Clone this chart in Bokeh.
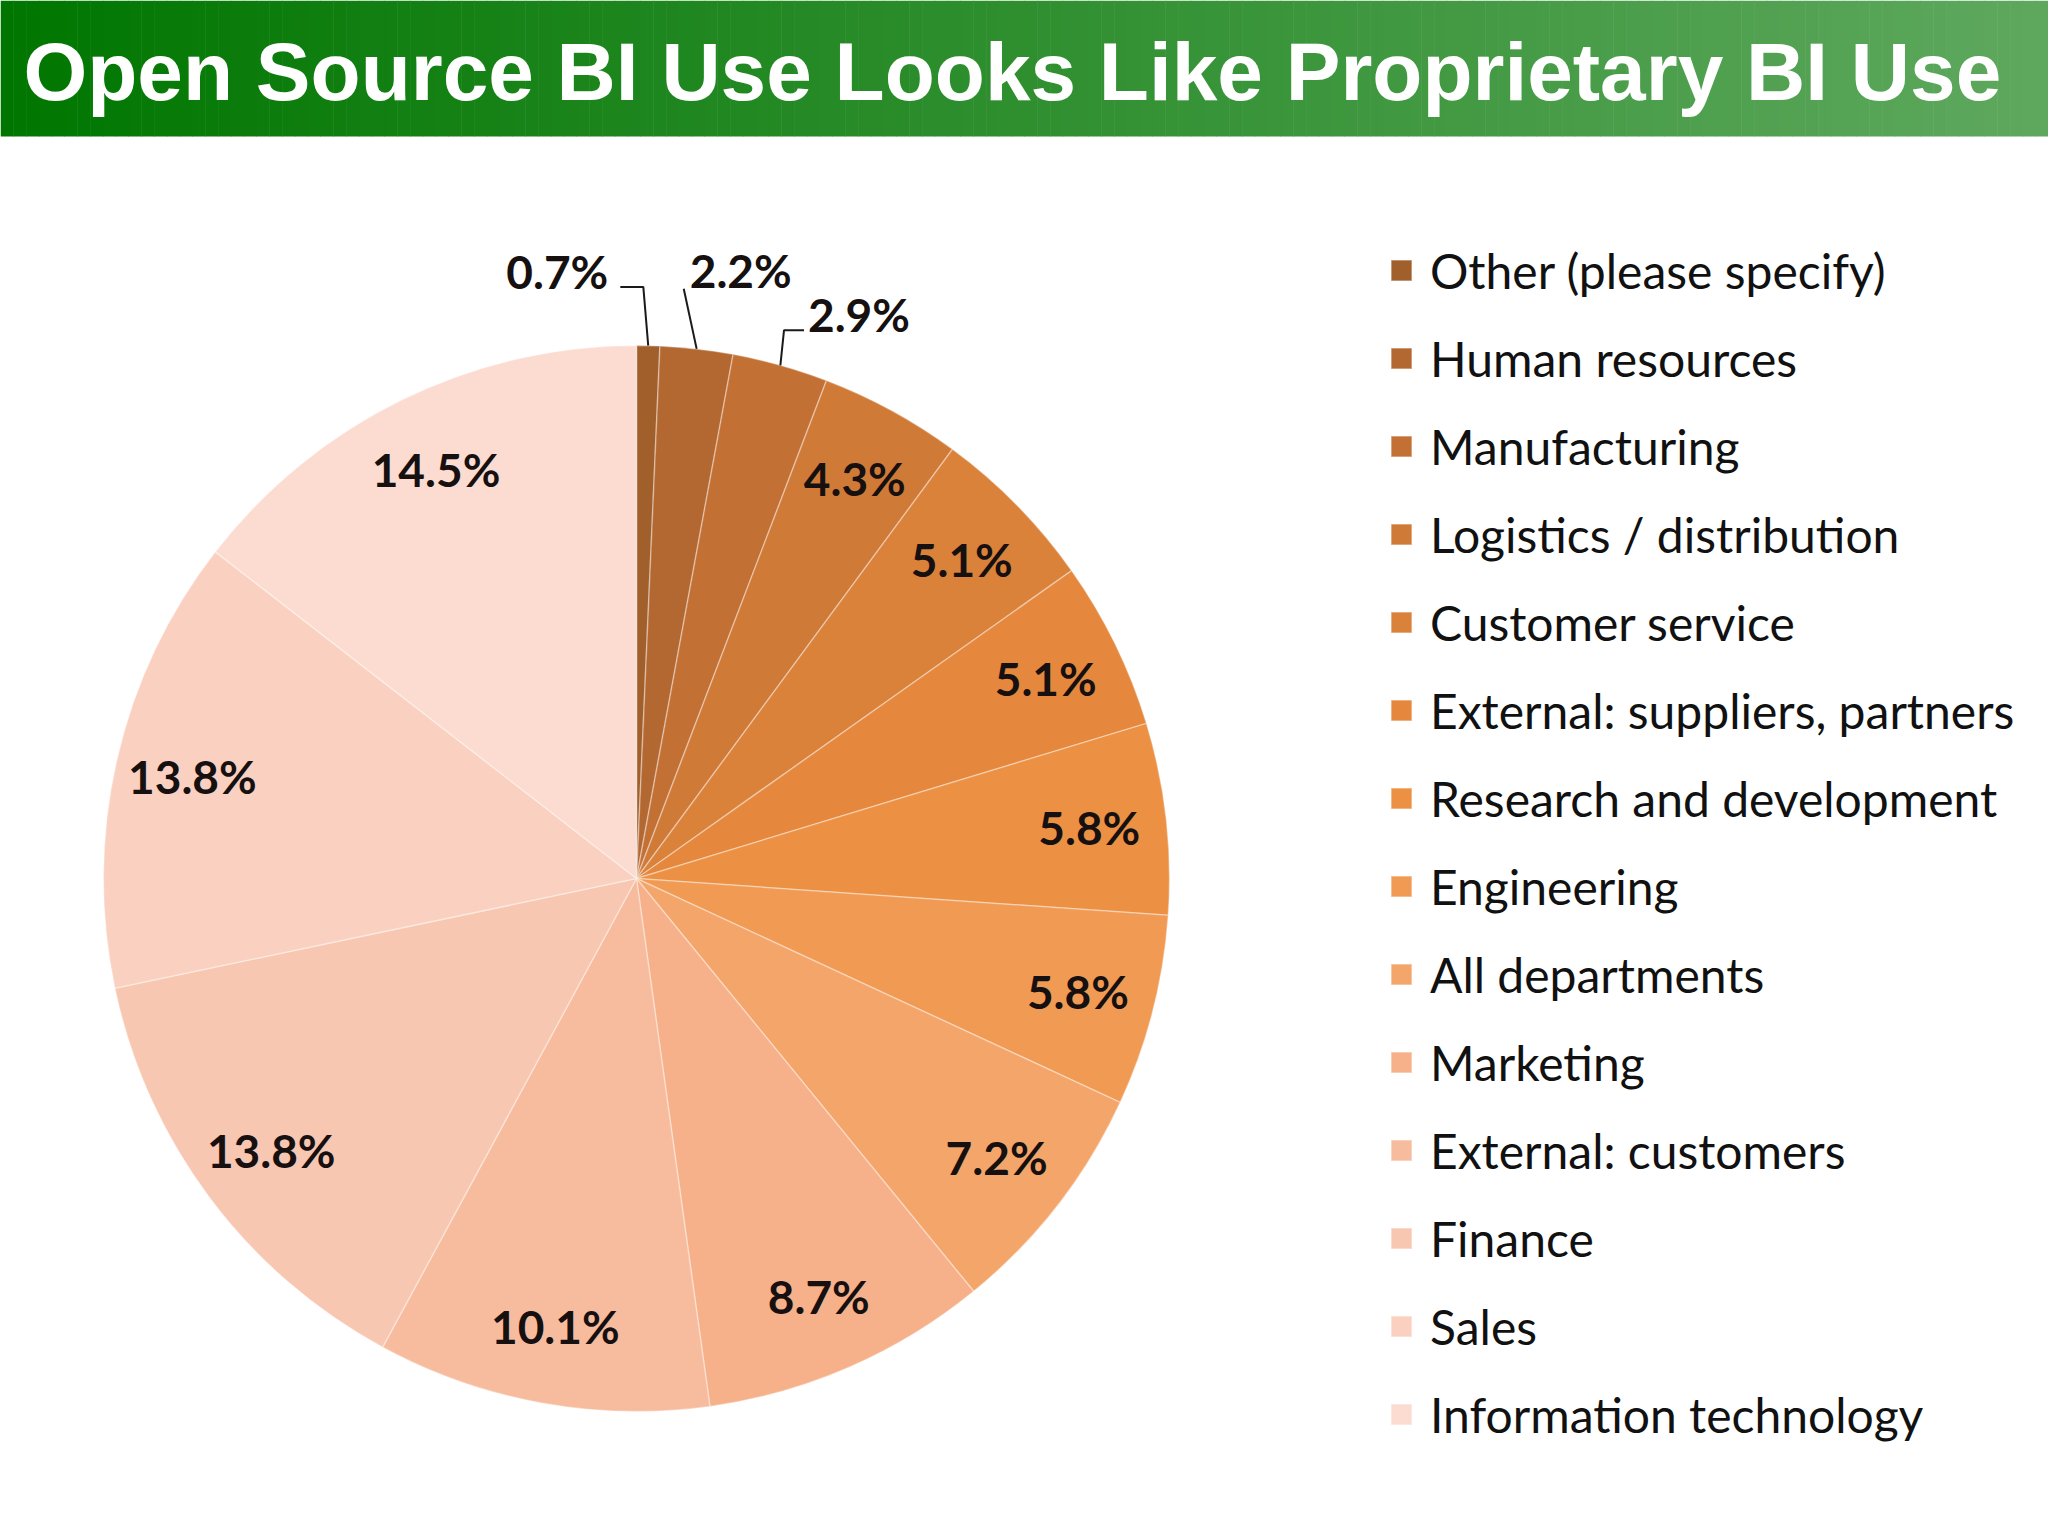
import numpy as np
from bokeh.plotting import figure
from bokeh.models import Range1d, Legend, LegendItem, ColumnDataSource
from bokeh.core.properties import value
from bokeh.embed import file_html
from bokeh.resources import INLINE

# ---------------- data ----------------
title_text = "Open Source BI Use Looks Like Proprietary BI Use"
categories = ["Other (please specify)", "Human resources", "Manufacturing",
              "Logistics / distribution", "Customer service",
              "External: suppliers, partners", "Research and development",
              "Engineering", "All departments", "Marketing",
              "External: customers", "Finance", "Sales",
              "Information technology"]
shares = [0.7, 2.2, 2.9, 4.3, 5.1, 5.1, 5.8, 5.8, 7.2, 8.7, 10.1, 13.8, 13.8, 14.5]
colors = ["#a15f2b", "#b46831", "#c27034", "#d07a38", "#da813a",
          "#e5883d", "#ec9043", "#f19a54", "#f4a56a", "#f6b18a",
          "#f7bc9e", "#f8c7b2", "#fad1c1", "#fcdcd0"]

# ---------------- layout ----------------
W, H = 2048, 1536
def Y(row):  # convert page pixel row into data y
    return H - row

cx, cy, R = 636, Y(878), 533
label_r = 0.855 * R

p = figure(width=W, height=H, x_range=Range1d(0, W), y_range=Range1d(0, H),
           output_backend="svg", toolbar_location=None, min_border=0)
p.axis.visible = False
p.grid.visible = False
p.outline_line_color = None
p.background_fill_color = "white"
p.border_fill_color = "white"

# title bar with horizontal gradient (strips)
n = 160
edges = np.linspace(0, W, n + 1)
c0 = np.array([0, 118, 0])
c1 = np.array([94, 168, 94])
strip_cols = ["#%02x%02x%02x" % tuple(int(round(v)) for v in c0 + (c1 - c0) * t)
              for t in np.linspace(0, 1, n)]
p.quad(left=edges[:-1], right=edges[1:] + 0.5, bottom=Y(136), top=Y(0),
       fill_color=strip_cols, line_color=None)
p.text(x=[23], y=[Y(71)], text=[title_text], text_color="white",
       text_font=value("Liberation Sans"),
       text_font_style="bold", text_font_size="82px", text_baseline="middle",
       text_align="left")

# pie
frac = np.array(shares) / sum(shares)
cum = np.concatenate([[0], np.cumsum(frac)])
start = np.pi / 2 - 2 * np.pi * cum[:-1]
end = np.pi / 2 - 2 * np.pi * cum[1:]
mid = (cum[:-1] + cum[1:]) / 2 * 2 * np.pi  # clockwise from top

src = ColumnDataSource(dict(start=start, end=end, color=colors, cat=categories))
wr = p.wedge(x=cx, y=cy, radius=R, start_angle="start", end_angle="end",
             direction="clock", fill_color="color", line_color="white",
             line_alpha=0.35, line_width=1.5, source=src)

label_font = value("Lato")
lab = ["%.1f%%" % s for s in shares]
inside = [i for i, s in enumerate(shares) if s > 3]
p.text(x=[cx + label_r * np.sin(mid[i]) for i in inside],
       y=[cy + label_r * np.cos(mid[i]) for i in inside],
       text=[lab[i] for i in inside], text_font=label_font, text_font_style="bold",
       text_font_size="46px", text_color="#161010", text_align="center",
       text_baseline="middle")

# outside labels with leader lines (small slices)
outside = {0: dict(r=1.11, da=-0.6, hx=-23, align="right", gap=-12, up=15),
           1: dict(r=1.11, da=-1.9, hx=0, align="left", gap=6, up=18),
           2: dict(r=1.065, da=-0.6, hx=20, align="left", gap=4, up=16)}
for i, o in outside.items():
    a = mid[i]
    ex, ey = cx + R * np.sin(a), cy + R * np.cos(a)
    b = a + np.radians(o["da"])
    kx, ky = cx + o["r"] * R * np.sin(b), cy + o["r"] * R * np.cos(b)
    hx = kx + o["hx"]
    p.line(x=[ex, kx, hx], y=[ey, ky, ky], line_color="#1a1a1a", line_width=2)
    p.text(x=[hx + o["gap"]], y=[ky + o["up"]], text=[lab[i]], text_font=label_font,
           text_font_style="bold", text_font_size="46px", text_color="#161010",
           text_align=o["align"], text_baseline="middle")

# legend
items = [LegendItem(label=categories[i], renderers=[wr], index=i)
         for i in range(len(categories))]
item_h = 62
spacing = 88 - item_h
bottom_row = 1414 + item_h / 2
legend = Legend(items=items, location=(1388, H - bottom_row),
                glyph_width=26, glyph_height=26, label_height=item_h,
                label_standoff=16, spacing=spacing, padding=0, margin=0,
                border_line_color=None, background_fill_alpha=0,
                label_text_font="Lato", label_text_font_size="48px",
                label_text_color="#111111")
p.add_layout(legend, "center")

open("out.html", "w").write(file_html(p, INLINE))
